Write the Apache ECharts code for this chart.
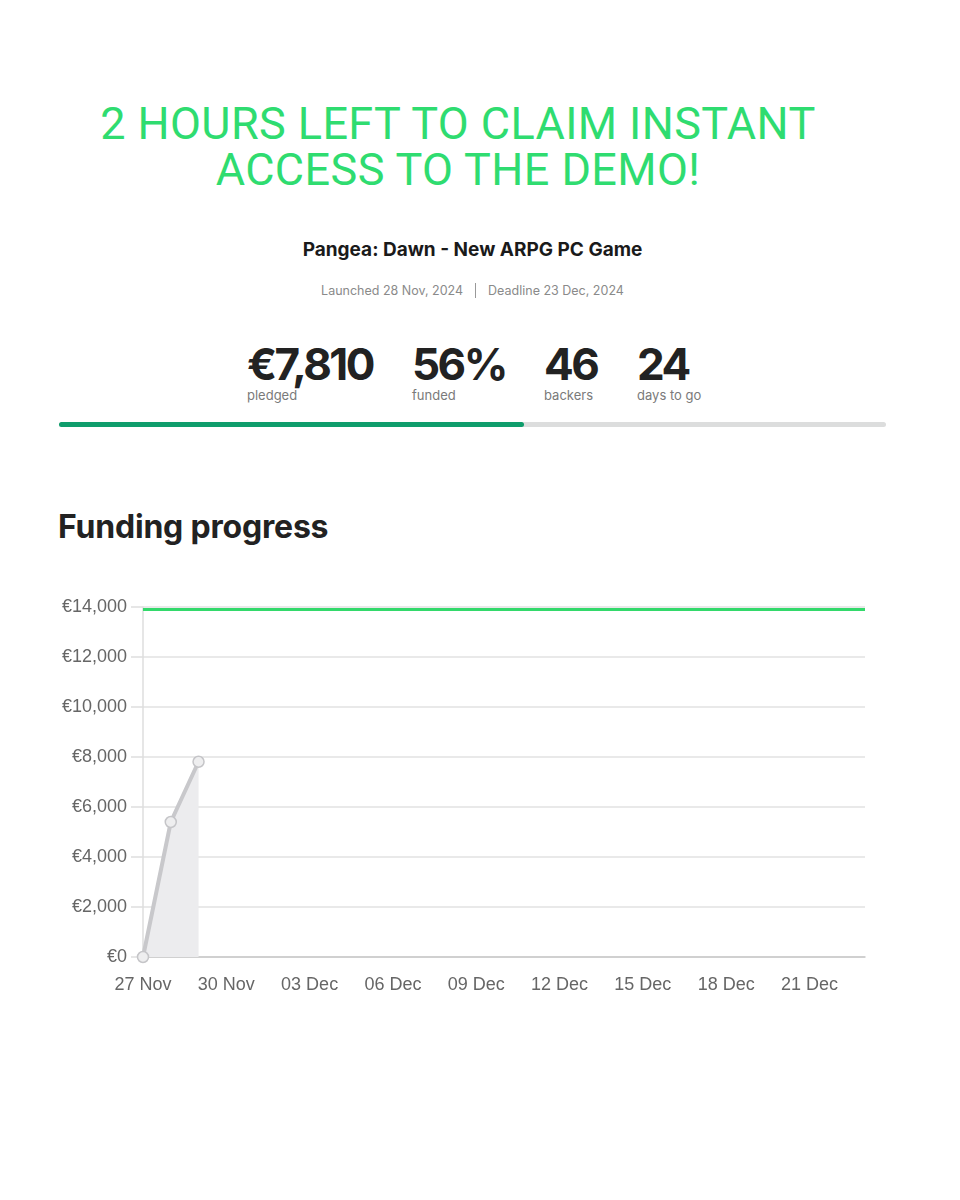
<!DOCTYPE html>
<html>
<head>
<meta charset="utf-8">
<script src="https://cdn.jsdelivr.net/npm/echarts@6/dist/echarts.min.js"></script>
<style>
  body { margin: 0; width: 960px; height: 1200px; background: #fff; position: relative; font-family: Inter, sans-serif; }
  .abs { position: absolute; white-space: nowrap; }
  .promo { left: 0; width: 916px; text-align: center; font-family: Roboto, sans-serif; font-weight: 400; font-size: 45px; line-height: 45px; color: #2fdc70; letter-spacing: 0.4px; }
  .stat { font-weight: 700; font-size: 44px; line-height: 44px; color: #222; letter-spacing: -2.5px; }
  .lbl { font-size: 13px; line-height: 13px; color: #7a7a7a; }
  #chart { position: absolute; left: 0; top: 560px; width: 960px; height: 460px; }
</style>
</head>
<body>
<div class="abs promo" style="top:101px">2 HOURS LEFT TO CLAIM INSTANT</div>
<div class="abs promo" style="top:147px">ACCESS TO THE DEMO!</div>

<div class="abs" style="left:0;width:945px;text-align:center;top:240px;font-size:19px;line-height:19px;font-weight:700;color:#1a1a1a">Pangea: Dawn - New ARPG PC Game</div>
<div class="abs" style="left:0;width:945px;text-align:center;top:283px;font-size:12.5px;line-height:13px;color:#8a8a8a">Launched 28 Nov, 2024<span style="display:inline-block;width:1px;height:15px;background:#999;margin:0 12px;vertical-align:-3px"></span>Deadline 23 Dec, 2024</div>

<div class="abs stat" style="left:247px;top:342px">€7,810</div>
<div class="abs lbl" style="left:247px;top:389px">pledged</div>
<div class="abs stat" style="left:412px;top:342px">56%</div>
<div class="abs lbl" style="left:412px;top:389px">funded</div>
<div class="abs stat" style="left:544px;top:342px">46</div>
<div class="abs lbl" style="left:544px;top:389px">backers</div>
<div class="abs stat" style="left:637px;top:342px">24</div>
<div class="abs lbl" style="left:637px;top:389px">days to go</div>

<div class="abs" style="left:59px;top:422px;width:827px;height:5px;background:#dcdddd;border-radius:3px"></div>
<div class="abs" style="left:59px;top:422px;width:465px;height:5px;background:#0f9d6c;border-radius:3px"></div>

<div class="abs" style="left:58px;top:511px;font-size:32px;line-height:32px;font-weight:700;color:#222;letter-spacing:-0.2px">Funding progress</div>

<div id="chart"></div>
<script>
// days since 27 Nov 2024
const dayIndex = [0, 1, 2];
const pledged = [0, 5400, 7810];
const goal = 13900;
const goalDays = [0, 26];
const tickLabels = ['27 Nov', '30 Nov', '03 Dec', '06 Dec', '09 Dec', '12 Dec', '15 Dec', '18 Dec', '21 Dec'];

const chart = echarts.init(document.getElementById('chart'));
chart.setOption({
  animation: false,
  grid: { left: 143, right: 95, top: 47, bottom: 63 },
  xAxis: {
    type: 'value', min: 0, max: 26, interval: 3,
    axisLine: { show: true, lineStyle: { color: '#c8c8c8', width: 1.5 } },
    axisTick: { show: false },
    splitLine: { show: false },
    axisLabel: {
      color: '#666', fontSize: 18, fontFamily: 'Liberation Sans', margin: 19,
      showMaxLabel: false,
      formatter: v => tickLabels[v / 3] || ''
    }
  },
  yAxis: {
    type: 'value', min: 0, max: 14000, interval: 2000,
    axisLine: { show: true, lineStyle: { color: '#dedede', width: 1.5 } },
    axisTick: { show: true, length: 12, lineStyle: { color: '#dedede', width: 1.5 } },
    splitLine: { lineStyle: { color: '#e2e2e2', width: 1.5 } },
    axisLabel: {
      color: '#666', fontSize: 18, fontFamily: 'Liberation Sans', margin: 16,
      formatter: v => '€' + v.toLocaleString('en-US')
    }
  },
  series: [
    {
      type: 'line',
      data: goalDays.map(d => [d, goal]),
      showSymbol: false,
      lineStyle: { color: '#33d96b', width: 3 },
      z: 3
    },
    {
      type: 'line',
      data: dayIndex.map((d, i) => [d, pledged[i]]),
      symbol: 'circle', symbolSize: 11,
      itemStyle: { color: '#eeeeef', borderColor: '#c5c5c8', borderWidth: 1.5 },
      lineStyle: { color: '#c8c8cb', width: 4 },
      areaStyle: { color: '#ececee', opacity: 1 },
      z: 4
    }
  ]
});
</script>
</body>
</html>
